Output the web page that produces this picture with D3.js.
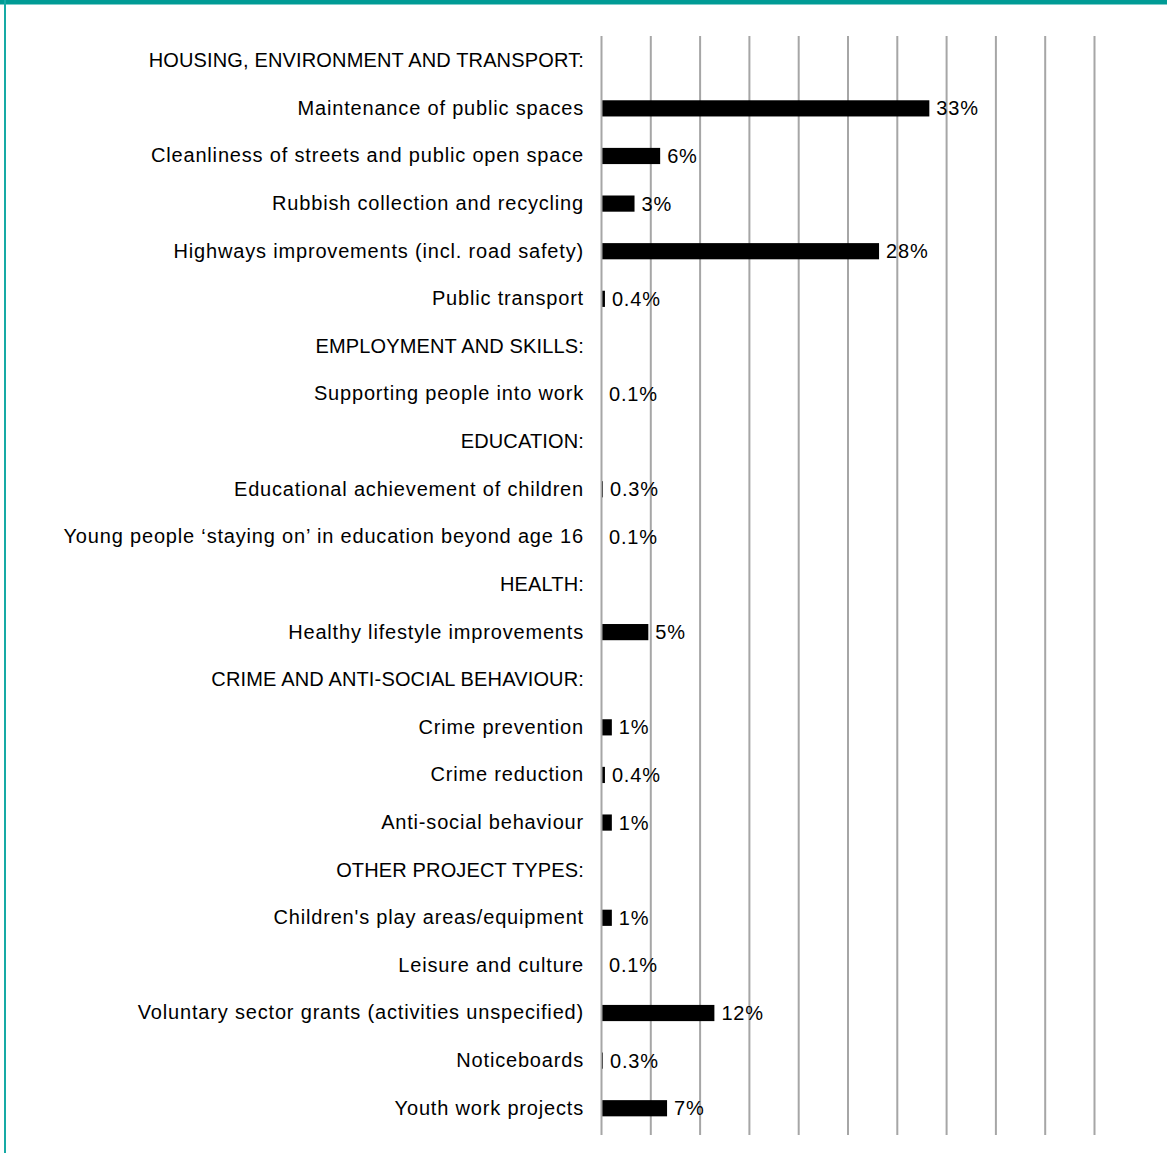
<!DOCTYPE html>
<html>
<head>
<meta charset="utf-8">
<script src="https://cdn.jsdelivr.net/npm/d3@7"></script>
<style>
  body { margin: 0; background: #fff; }
  svg { display: block; }
  .axis-y text { font-family: "Liberation Sans", Arial, sans-serif; font-size: 20px; fill: #000; letter-spacing: 0.82px; }
  .axis-y text.header { letter-spacing: 0.15px; }
  .value-label { font-family: "Liberation Sans", Arial, sans-serif; font-size: 20px; fill: #000; letter-spacing: 0.8px; }
</style>
</head>
<body>
<div class="chart-container"></div>
<script>
"use strict";

// Row labels, top to bottom (headers end with a colon and have no bar)
const rowLabels = [
  "HOUSING, ENVIRONMENT AND TRANSPORT:",
  "Maintenance of public spaces",
  "Cleanliness of streets and public open space",
  "Rubbish collection and recycling",
  "Highways improvements (incl. road safety)",
  "Public transport",
  "EMPLOYMENT AND SKILLS:",
  "Supporting people into work",
  "EDUCATION:",
  "Educational achievement of children",
  "Young people \u2018staying on\u2019 in education beyond age 16",
  "HEALTH:",
  "Healthy lifestyle improvements",
  "CRIME AND ANTI-SOCIAL BEHAVIOUR:",
  "Crime prevention",
  "Crime reduction",
  "Anti-social behaviour",
  "OTHER PROJECT TYPES:",
  "Children's play areas/equipment",
  "Leisure and culture",
  "Voluntary sector grants (activities unspecified)",
  "Noticeboards",
  "Youth work projects"
];

// Share of spend, % (null for header rows)
const values = [
  null, 33.3, 6.0, 3.4, 28.2, 0.4,
  null, 0.1,
  null, 0.2, 0.1,
  null, 4.8,
  null, 1.1, 0.4, 1.1,
  null, 1.1, 0.1, 11.5, 0.2, 6.7
];

// Printed value labels
const valueLabels = [
  null, "33%", "6%", "3%", "28%", "0.4%",
  null, "0.1%",
  null, "0.3%", "0.1%",
  null, "5%",
  null, "1%", "0.4%", "1%",
  null, "1%", "0.1%", "12%", "0.3%", "7%"
];

const gridTicks = [0, 5, 10, 15, 20, 25, 30, 35, 40, 45, 50];

const data = rowLabels.map((label, i) => ({
  label,
  value: values[i],
  text: valueLabels[i]
}));

function drawChart(data) {
  const width = 1167;
  const height = 1153;
  const margin = { top: 36, right: 73, bottom: 18, left: 601 };
  const innerHeight = height - margin.bottom - margin.top;

  const svg = d3.select(".chart-container")
    .append("svg")
      .attr("width", width)
      .attr("height", height);

  // Teal frame (top bar and thin left edge)
  svg.append("rect")
    .attr("x", 0).attr("y", 0)
    .attr("width", width).attr("height", 4.5)
    .attr("fill", "#009b95");
  svg.append("rect")
    .attr("x", 4).attr("y", 0)
    .attr("width", 2).attr("height", height)
    .attr("fill", "#17aaa5");

  const xScale = d3.scaleLinear()
    .domain([0, 50])
    .range([margin.left, width - margin.right]);

  const yScale = d3.scaleBand()
    .domain(rowLabels)
    .range([margin.top, height - margin.bottom - 2])
    .paddingInner(0.66)
    .paddingOuter(0.35);

  const gridAxis = ticks => d3.axisBottom(xScale)
    .tickValues(ticks)
    .tickSize(-innerHeight)
    .tickFormat("");

  const styleGrid = g => {
    g.select(".domain").remove();
    g.selectAll(".tick line")
      .attr("stroke", "#a6a6a6")
      .attr("stroke-width", 2);
  };

  // Vertical gridlines (behind the bars)
  svg.append("g")
      .attr("class", "grid")
      .attr("transform", `translate(0, ${height - margin.bottom})`)
      .call(gridAxis(gridTicks.filter(t => t !== 0)))
      .call(styleGrid);

  // Category axis
  svg.append("g")
      .attr("class", "axis-y")
      .attr("transform", `translate(${margin.left}, 0)`)
      .call(d3.axisLeft(yScale).tickSize(0).tickPadding(17))
      .call(g => g.select(".domain").remove())
      .call(g => g.selectAll("text")
        .attr("font-family", null)
        .attr("font-size", null)
        .classed("header", d => d.endsWith(":")));

  const rows = data.filter(d => d.value !== null);

  svg.append("g")
    .selectAll("rect")
    .data(rows)
    .join("rect")
      .attr("x", xScale(0))
      .attr("y", d => yScale(d.label))
      .attr("width", d => xScale(d.value) - xScale(0))
      .attr("height", yScale.bandwidth())
      .attr("fill", "#000");

  // Zero line on top of the bars
  svg.append("g")
      .attr("class", "grid")
      .attr("transform", `translate(0, ${height - margin.bottom})`)
      .call(gridAxis([0]))
      .call(styleGrid);

  svg.append("g")
    .selectAll("text")
    .data(rows)
    .join("text")
      .attr("class", "value-label")
      .attr("x", d => xScale(d.value) + 7)
      .attr("y", d => yScale(d.label) + yScale.bandwidth() / 2)
      .attr("dy", "0.35em")
      .text(d => d.text);
}

drawChart(data);
</script>
</body>
</html>
